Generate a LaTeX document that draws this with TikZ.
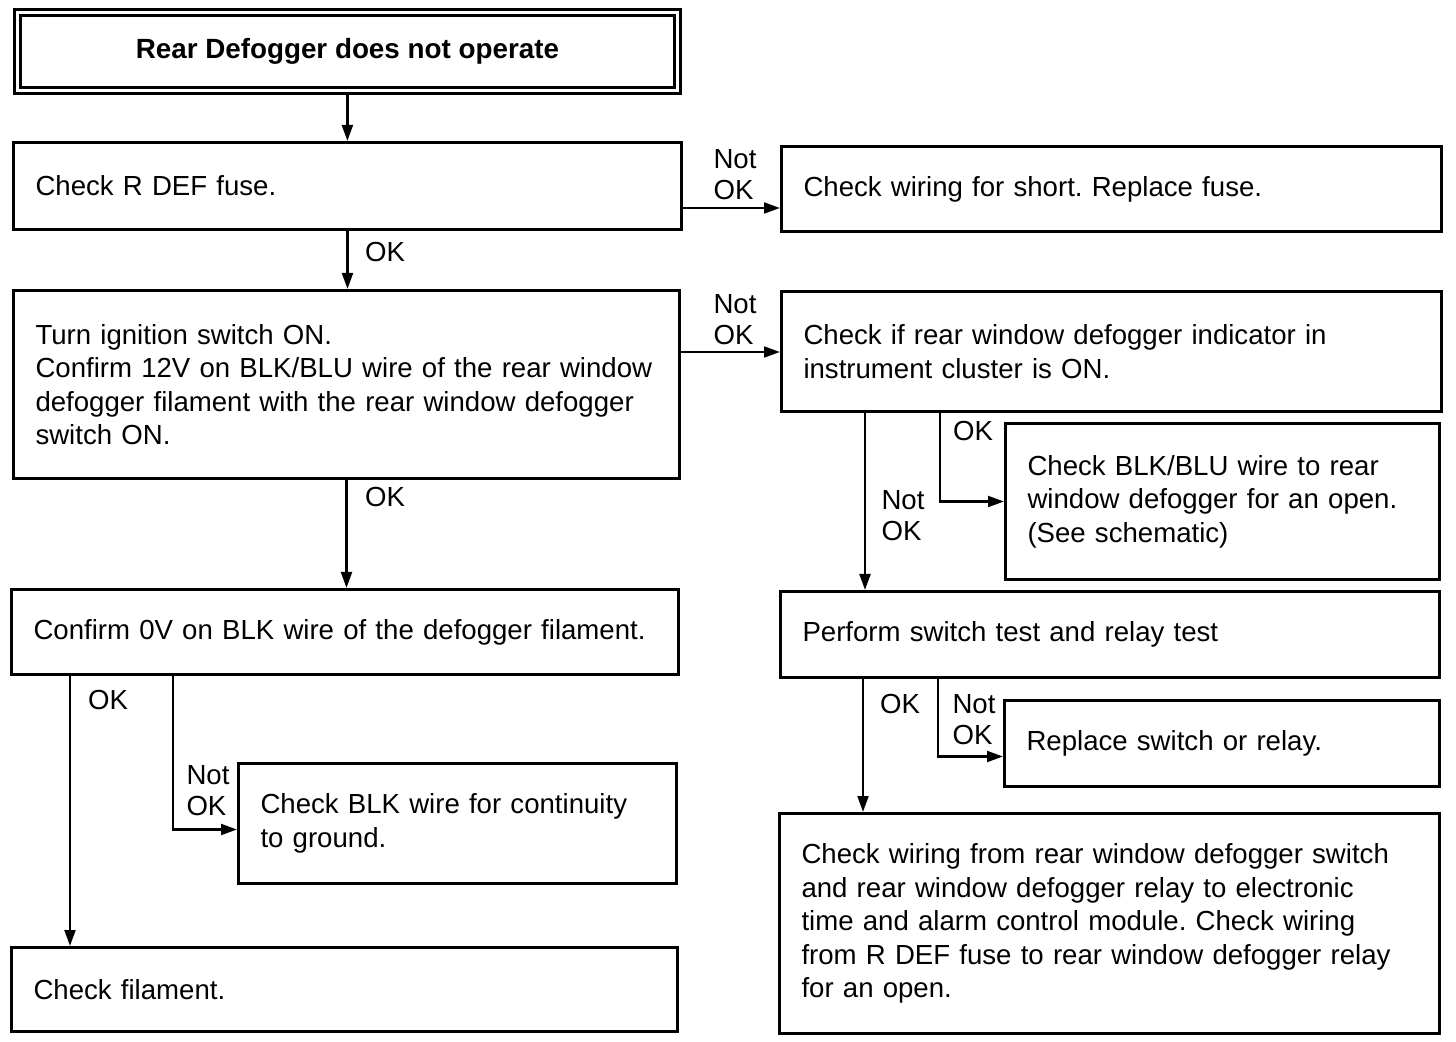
\documentclass[tikz,border=0pt]{standalone}
\usepackage{fontspec}
\setmainfont{Liberation Sans}
\usetikzlibrary{arrows.meta}
\frenchspacing
\hyphenpenalty=10000
\begin{document}
\begin{tikzpicture}[x=0.5pt,y=-0.5pt,
  box/.style={draw,line width=1.5pt,rectangle,anchor=north west,align=left,
    inner xsep=11pt,inner ysep=2pt,font=\fontsize{13.8pt}{16.75pt}\selectfont},
  titlebox/.style={draw,line width=1.4pt,double,double distance=1.5pt,rectangle,anchor=north west,
    inner sep=0pt,font=\bfseries\fontsize{13.9pt}{16.8pt}\selectfont},
  arr/.style={line width=1.3pt,-{Triangle[length=8pt,width=5.4pt]}},
  lbl/.style={align=left,inner sep=0pt,font=\fontsize{13.8pt}{15.5pt}\selectfont}]
\useasboundingbox (0,0) rectangle (1456,1042);
\fill[white] (0,0) rectangle (1456,1042);

\node[titlebox,minimum width=330pt,minimum height=39pt] (title) at (16,11) {Rear Defogger does not operate};

\node[box,text width=312pt,minimum height=43.5pt] (fuse) at (12,141) {Check R DEF fuse.};
\node[box,text width=308pt,minimum height=42.5pt] (short) at (780,145) {Check wiring for short. Replace fuse.};
\node[box,text width=311pt,minimum height=94pt] (ign) at (12,289) {Turn ignition switch ON.\\Confirm 12V on BLK/BLU wire of the rear window\\defogger filament with the rear window defogger\\switch ON.};
\node[box,text width=308pt,minimum height=60pt] (ind) at (780,290) {Check if rear window defogger indicator in\\instrument cluster is ON.};
\node[box,text width=311.5pt,minimum height=42.5pt] (cz) at (10,588) {Confirm 0V on BLK wire of the defogger filament.};
\node[box,text width=197pt,minimum height=60pt] (blk) at (237,762) {Check BLK wire for continuity\\to ground.};
\node[box,text width=311pt,minimum height=42pt] (fil) at (10,946) {Check filament.};
\node[box,text width=195pt,minimum height=78pt] (blu) at (1004,422) {Check BLK/BLU wire to rear\\window defogger for an open.\\(See schematic)};
\node[box,text width=307.5pt,minimum height=43pt] (pst) at (779,590) {Perform switch test and relay test};
\node[box,text width=195.5pt,minimum height=43pt] (rep) at (1003,699) {Replace switch or relay.};
\node[box,text width=308pt,minimum height=110pt] (cw) at (778,812) {Check wiring from rear window defogger switch\\and rear window defogger relay to electronic\\time and alarm control module. Check wiring\\from R DEF fuse to rear window defogger relay\\for an open.};

% connectors
\draw[arr] (title.south) -- (title.south |- fuse.north);
\draw[arr] (fuse.north east) ++(0,-33.5pt) coordinate (a1) -- (a1 -| short.west);
\draw[arr] (fuse.south) -- (fuse.south |- ign.north);
\draw[arr] (ign.north east) ++(0,-31.5pt) coordinate (a2) -- (a2 -| ind.west);
\draw[arr] (ign.south) -- (ign.south |- cz.north);
\draw[arr] (cz.south west) ++(30pt,0) coordinate (a3) -- (a3 |- fil.north);
\draw[arr] (cz.south west) ++(81.5pt,0) coordinate (a4) |- ([yshift=-3pt]blk.west);
\draw[arr] (ind.south west) ++(42.5pt,0) coordinate (a5) -- (a5 |- pst.north);
\draw[arr] (ind.south west) ++(80pt,0) coordinate (a6) |- (blu.west);
\draw[arr] (pst.south west) ++(42pt,0) coordinate (a7) -- (a7 |- cw.north);
\draw[arr] (pst.south west) ++(79.5pt,0) coordinate (a8) |- ([yshift=-6.5pt]rep.west);

% labels
\node[lbl] (l1) at (735,175) {Not\\OK};
\node[lbl] (l2) at (385,252) {OK};
\node[lbl] (l3) at (735,320) {Not\\OK};
\node[lbl] (l4) at (385,497) {OK};
\node[lbl] (l5) at (108,700) {OK};
\node[lbl] (l6) at (208,791) {Not\\OK};
\node[lbl] (l7) at (973,431) {OK};
\node[lbl] (l8) at (903,516) {Not\\OK};
\node[lbl] (l9) at (900,704) {OK};
\node[lbl] (l10) at (974,720) {Not\\OK};
\end{tikzpicture}
\end{document}
